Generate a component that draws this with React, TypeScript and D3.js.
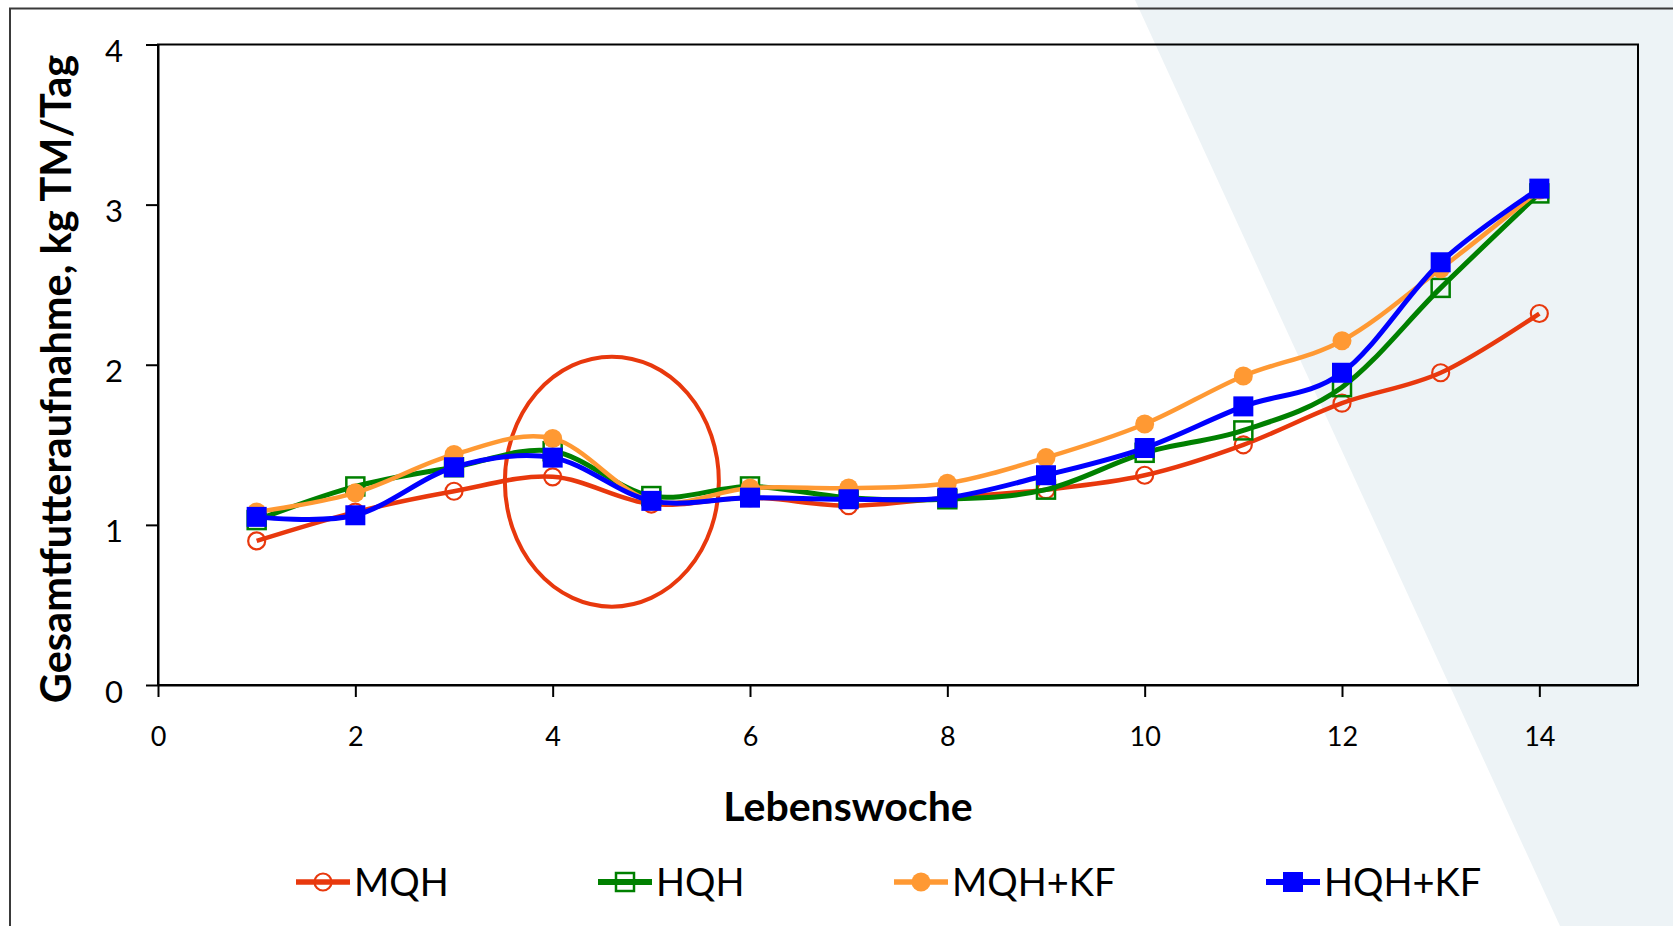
import React, { useEffect, useRef } from "react";
import * as d3 from "d3";

const weeks = [1, 2, 3, 4, 5, 6, 7, 8, 9, 10, 11, 12, 13, 14];
const mqh = [0.9, 1.08, 1.21, 1.3, 1.13, 1.17, 1.12, 1.17, 1.22, 1.31, 1.5, 1.76, 1.95, 2.32];
const hqh = [1.03, 1.24, 1.36, 1.46, 1.18, 1.24, 1.17, 1.16, 1.22, 1.45, 1.59, 1.86, 2.48, 3.07];
const mqhKf = [1.08, 1.2, 1.44, 1.54, 1.15, 1.23, 1.23, 1.26, 1.42, 1.63, 1.93, 2.15, 2.6, 3.09];
const hqhKf = [1.05, 1.06, 1.36, 1.42, 1.15, 1.17, 1.16, 1.17, 1.31, 1.48, 1.74, 1.95, 2.64, 3.1];
const seriesNames = ["MQH", "HQH", "MQH+KF", "HQH+KF"];
const xTicks = [0, 2, 4, 6, 8, 10, 12, 14];
const yTicks = [0, 1, 2, 3, 4];
const xTitle = "Lebenswoche";
const yTitle = "Gesamtfutteraufnahme, kg TM/Tag";

const W = 1673;
const H = 926;
const FONT = "Lato, 'Open Sans', sans-serif";

type Style = { color: string; marker: "circle" | "square"; filled: boolean; lw: number; size: number };
const styles: Style[] = [
  { color: "#E8380D", marker: "circle", filled: false, lw: 4.5, size: 8.5 },
  { color: "#008000", marker: "square", filled: false, lw: 5, size: 9 },
  { color: "#FF9933", marker: "circle", filled: true, lw: 4.5, size: 9.5 },
  { color: "#0000FF", marker: "square", filled: true, lw: 5, size: 10 },
];

export default function App() {
  const ref = useRef<SVGSVGElement | null>(null);

  useEffect(() => {
    const svg = d3.select(ref.current);
    svg.selectAll("*").remove();

    const plot = { left: 158, top: 44.5, right: 1638, bottom: 685 };
    const x = d3.scaleLinear().domain([0, 15]).range([plot.left, plot.right]);
    const y = d3.scaleLinear().domain([0, 4]).range([plot.bottom, plot.top]);

    // background
    svg.append("rect").attr("width", W).attr("height", H).attr("fill", "#ffffff");
    svg
      .append("polygon")
      .attr("points", `1135,0 ${W},0 ${W},${H} 1560,${H}`)
      .attr("fill", "#EDF3F6");

    // outer frame
    svg
      .append("rect")
      .attr("x", 10)
      .attr("y", 8.5)
      .attr("width", W + 50)
      .attr("height", H + 50)
      .attr("fill", "none")
      .attr("stroke", "#3a3a3a")
      .attr("stroke-width", 2);

    // plot box
    svg
      .append("rect")
      .attr("x", plot.left)
      .attr("y", plot.top)
      .attr("width", plot.right - plot.left)
      .attr("height", plot.bottom - plot.top)
      .attr("fill", "none")
      .attr("stroke", "#000")
      .attr("stroke-width", 2);

    // axes
    const gx = svg
      .append("g")
      .attr("transform", `translate(0,${plot.bottom})`)
      .call(
        d3
          .axisBottom(x)
          .tickValues(xTicks)
          .tickFormat(d3.format("d") as any)
          .tickSize(12)
          .tickSizeOuter(0)
      );
    gx.select(".domain").attr("stroke", "#000").attr("stroke-width", 2);
    gx.selectAll(".tick line").attr("stroke", "#000").attr("stroke-width", 2);
    gx.selectAll(".tick text")
      .attr("font-family", FONT)
      .attr("font-size", 27)
      .attr("fill", "#000")
      .attr("y", 61)
      .attr("dy", 0);

    const gy = svg
      .append("g")
      .attr("transform", `translate(${plot.left},0)`)
      .call(
        d3
          .axisLeft(y)
          .tickValues(yTicks)
          .tickFormat(d3.format("d") as any)
          .tickSize(12)
          .tickSizeOuter(0)
      );
    gy.select(".domain").attr("stroke", "#000").attr("stroke-width", 2);
    gy.selectAll(".tick line").attr("stroke", "#000").attr("stroke-width", 2);
    gy.selectAll(".tick text")
      .attr("font-family", FONT)
      .attr("font-size", 31)
      .attr("fill", "#000")
      .attr("text-anchor", "middle")
      .attr("x", -44)
      .attr("dy", "0.55em");

    // titles
    svg
      .append("text")
      .attr("x", 848)
      .attr("y", 821)
      .attr("text-anchor", "middle")
      .attr("font-family", FONT)
      .attr("font-weight", "bold")
      .attr("font-size", 41)
      .text(xTitle);
    svg
      .append("text")
      .attr("transform", `translate(71,379) rotate(-90)`)
      .attr("text-anchor", "middle")
      .attr("font-family", FONT)
      .attr("font-weight", "bold")
      .attr("font-size", 41.5)
      .text(yTitle);

    // ellipse highlight
    svg
      .append("ellipse")
      .attr("cx", x(4.6))
      .attr("cy", y(1.27))
      .attr("rx", 107)
      .attr("ry", 125)
      .attr("fill", "none")
      .attr("stroke", "#E8380D")
      .attr("stroke-width", 4);

    const allSeries = [mqh, hqh, mqhKf, hqhKf];
    const line = d3
      .line<number>()
      .x((_, i) => x(weeks[i]))
      .y((d) => y(d))
      .curve(d3.curveCardinal.tension(0));

    const drawMarker = (g: any, cx: number, cy: number, s: Style) => {
      if (s.marker === "circle") {
        g.append("circle")
          .attr("cx", cx)
          .attr("cy", cy)
          .attr("r", s.size)
          .attr("fill", s.filled ? s.color : "none")
          .attr("stroke", s.color)
          .attr("stroke-width", s.filled ? 0 : 2.2);
      } else {
        g.append("rect")
          .attr("x", cx - s.size)
          .attr("y", cy - s.size)
          .attr("width", s.size * 2)
          .attr("height", s.size * 2)
          .attr("fill", s.filled ? s.color : "none")
          .attr("stroke", s.color)
          .attr("stroke-width", s.filled ? 0 : 2.5);
      }
    };

    allSeries.forEach((vals, k) => {
      const s = styles[k];
      const g = svg.append("g");
      g.append("path")
        .attr("d", line(vals) as string)
        .attr("fill", "none")
        .attr("stroke", s.color)
        .attr("stroke-width", s.lw)
        .attr("stroke-linejoin", "round");
      vals.forEach((v, i) => drawMarker(g, x(weeks[i]), y(v), s));
    });

    // legend
    const legendX = [296, 598, 894, 1266];
    const ly = 882;
    seriesNames.forEach((name, k) => {
      const s = styles[k];
      const g = svg.append("g");
      const lx = legendX[k];
      g.append("line")
        .attr("x1", lx)
        .attr("x2", lx + 54)
        .attr("y1", ly)
        .attr("y2", ly)
        .attr("stroke", s.color)
        .attr("stroke-width", s.lw + 1);
      drawMarker(g, lx + 27, ly, s);
      g.append("text")
        .attr("x", lx + 58)
        .attr("y", ly)
        .attr("dy", "0.36em")
        .attr("font-family", FONT)
        .attr("font-size", 38)
        .attr("fill", "#000")
        .text(name);
    });
  }, []);

  return (
    <svg
      ref={ref}
      width={W}
      height={H}
      style={{ position: "absolute", left: 0, top: 0, display: "block" }}
    />
  );
}
